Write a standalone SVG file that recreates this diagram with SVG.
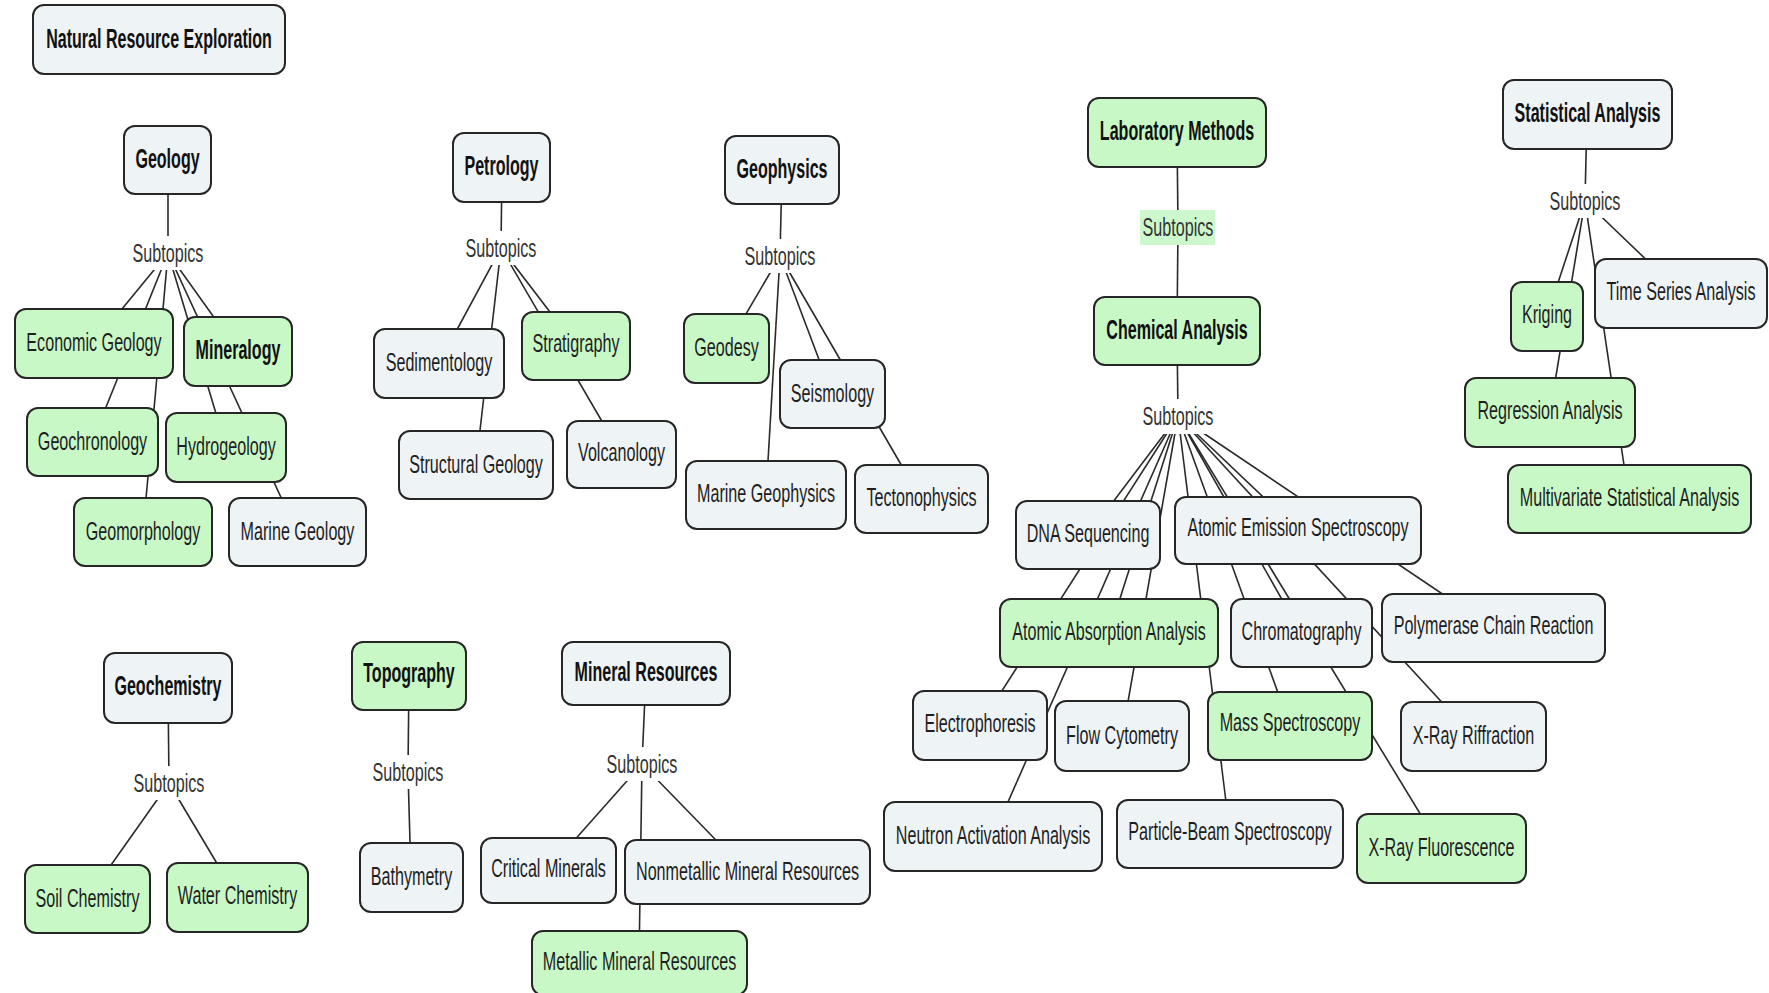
<svg xmlns="http://www.w3.org/2000/svg" width="1769" height="993" viewBox="0 0 1769 993">
  <style>
    .box { stroke: #262626; stroke-width: 2; }
    .gray { fill: #eef3f6; }
    .green { fill: #c8f8c6; }
    .t { font-family: "Liberation Sans", Arial, sans-serif; font-size: 26px; fill: #1e1e1e; text-anchor: middle; }
    .b { font-weight: bold; font-size: 27px; fill: #111; }
    .lbl { fill: #ffffff; }
    .lblg { fill: #cdf8cd; }
    .st { fill: #333; }
    .edges line { stroke: #2a2a2a; stroke-width: 1.6; }
  </style>

  <rect width="1769" height="993" fill="#ffffff"/>

  <!-- connectors: parent -> "Subtopics" -> child centres (boxes drawn on top) -->
  <g id="connectors" class="edges">
    <!-- Geology -->
    <line x1="168" y1="160" x2="168" y2="253"/>
    <line x1="168" y1="253" x2="94" y2="343"/>
    <line x1="168" y1="253" x2="238" y2="351"/>
    <line x1="168" y1="253" x2="92" y2="442"/>
    <line x1="168" y1="253" x2="226" y2="447"/>
    <line x1="168" y1="253" x2="143" y2="532"/>
    <line x1="168" y1="253" x2="297" y2="532"/>
    <!-- Petrology -->
    <line x1="502" y1="167" x2="501" y2="248"/>
    <line x1="501" y1="248" x2="439" y2="363"/>
    <line x1="501" y1="248" x2="576" y2="346"/>
    <line x1="501" y1="248" x2="476" y2="465"/>
    <line x1="501" y1="248" x2="621" y2="454"/>
    <!-- Geophysics -->
    <line x1="782" y1="170" x2="780" y2="256"/>
    <line x1="780" y1="256" x2="726" y2="348"/>
    <line x1="780" y1="256" x2="832" y2="394"/>
    <line x1="780" y1="256" x2="766" y2="495"/>
    <line x1="780" y1="256" x2="921" y2="499"/>
    <!-- Laboratory Methods -->
    <line x1="1177" y1="132" x2="1178" y2="227"/>
    <line x1="1178" y1="227" x2="1177" y2="331"/>
    <!-- Chemical Analysis -->
    <line x1="1177" y1="331" x2="1178" y2="416"/>
    <line x1="1178" y1="416" x2="1088" y2="535"/>
    <line x1="1178" y1="416" x2="1298" y2="530"/>
    <line x1="1178" y1="416" x2="1109" y2="633"/>
    <line x1="1178" y1="416" x2="1301" y2="633"/>
    <line x1="1178" y1="416" x2="1493" y2="628"/>
    <line x1="1178" y1="416" x2="980" y2="725"/>
    <line x1="1178" y1="416" x2="1122" y2="736"/>
    <line x1="1178" y1="416" x2="1290" y2="726"/>
    <line x1="1178" y1="416" x2="1473" y2="736"/>
    <line x1="1178" y1="416" x2="993" y2="836"/>
    <line x1="1178" y1="416" x2="1230" y2="834"/>
    <line x1="1178" y1="416" x2="1441" y2="848"/>
    <!-- Statistical Analysis -->
    <line x1="1587" y1="114" x2="1585" y2="201"/>
    <line x1="1585" y1="201" x2="1547" y2="316"/>
    <line x1="1585" y1="201" x2="1681" y2="293"/>
    <line x1="1585" y1="201" x2="1550" y2="412"/>
    <line x1="1585" y1="201" x2="1629" y2="499"/>
    <!-- Geochemistry -->
    <line x1="168" y1="688" x2="169" y2="783"/>
    <line x1="169" y1="783" x2="87" y2="899"/>
    <line x1="169" y1="783" x2="237" y2="897"/>
    <!-- Topography -->
    <line x1="409" y1="676" x2="408" y2="772"/>
    <line x1="408" y1="772" x2="411" y2="877"/>
    <!-- Mineral Resources -->
    <line x1="646" y1="673" x2="642" y2="764"/>
    <line x1="642" y1="764" x2="548" y2="870"/>
    <line x1="642" y1="764" x2="747" y2="872"/>
    <line x1="642" y1="764" x2="639" y2="961"/>
  </g>

  <!-- "Subtopics" labels -->
  <g id="lbl-geology"><rect class="lbl" x="130" y="236" width="76" height="34"/><text class="t st" transform="translate(168 253) scale(0.62 1)" dy="0.35em">Subtopics</text></g>
  <g id="lbl-petrology"><rect class="lbl" x="463" y="231" width="76" height="34"/><text class="t st" transform="translate(501 248) scale(0.62 1)" dy="0.35em">Subtopics</text></g>
  <g id="lbl-geophysics"><rect class="lbl" x="742" y="239" width="76" height="34"/><text class="t st" transform="translate(780 256) scale(0.62 1)" dy="0.35em">Subtopics</text></g>
  <g id="lbl-laboratory"><rect class="lblg" x="1140" y="210" width="75" height="35"/><text class="t st" transform="translate(1178 227) scale(0.62 1)" dy="0.35em">Subtopics</text></g>
  <g id="lbl-chemical"><rect class="lbl" x="1140" y="399" width="76" height="35"/><text class="t st" transform="translate(1178 416) scale(0.62 1)" dy="0.35em">Subtopics</text></g>
  <g id="lbl-statistical"><rect class="lbl" x="1547" y="184" width="76" height="34"/><text class="t st" transform="translate(1585 201) scale(0.62 1)" dy="0.35em">Subtopics</text></g>
  <g id="lbl-geochemistry"><rect class="lbl" x="131" y="766" width="76" height="34"/><text class="t st" transform="translate(169 783) scale(0.62 1)" dy="0.35em">Subtopics</text></g>
  <g id="lbl-topography"><rect class="lbl" x="370" y="755" width="76" height="34"/><text class="t st" transform="translate(408 772) scale(0.62 1)" dy="0.35em">Subtopics</text></g>
  <g id="lbl-mineral"><rect class="lbl" x="604" y="747" width="76" height="34"/><text class="t st" transform="translate(642 764) scale(0.62 1)" dy="0.35em">Subtopics</text></g>

  <!-- nodes -->
  <g id="n-natural-resource-exploration"><rect class="box gray" x="33" y="5" width="252" height="69" rx="11"/><text class="t b" transform="translate(159 39) scale(0.595 1)" dy="0.35em">Natural Resource Exploration</text></g>

  <g id="n-geology"><rect class="box gray" x="124" y="126" width="87" height="68" rx="11"/><text class="t b" transform="translate(167.5 159) scale(0.595 1)" dy="0.35em">Geology</text></g>
  <g id="n-economic-geology"><rect class="box green" x="15" y="309" width="158" height="69" rx="11"/><text class="t" transform="translate(94 342) scale(0.62 1)" dy="0.35em">Economic Geology</text></g>
  <g id="n-mineralogy"><rect class="box green" x="184" y="317" width="108" height="69" rx="11"/><text class="t b" transform="translate(238 350) scale(0.595 1)" dy="0.35em">Mineralogy</text></g>
  <g id="n-geochronology"><rect class="box green" x="27" y="408" width="131" height="68" rx="11"/><text class="t" transform="translate(92.5 441) scale(0.62 1)" dy="0.35em">Geochronology</text></g>
  <g id="n-hydrogeology"><rect class="box green" x="166" y="413" width="120" height="69" rx="11"/><text class="t" transform="translate(226 446) scale(0.62 1)" dy="0.35em">Hydrogeology</text></g>
  <g id="n-geomorphology"><rect class="box green" x="74" y="498" width="138" height="68" rx="11"/><text class="t" transform="translate(143 531) scale(0.62 1)" dy="0.35em">Geomorphology</text></g>
  <g id="n-marine-geology"><rect class="box gray" x="229" y="498" width="137" height="68" rx="11"/><text class="t" transform="translate(297.5 531) scale(0.62 1)" dy="0.35em">Marine Geology</text></g>

  <g id="n-petrology"><rect class="box gray" x="453" y="133" width="97" height="69" rx="11"/><text class="t b" transform="translate(501.5 166) scale(0.595 1)" dy="0.35em">Petrology</text></g>
  <g id="n-sedimentology"><rect class="box gray" x="374" y="329" width="130" height="69" rx="11"/><text class="t" transform="translate(439 362) scale(0.62 1)" dy="0.35em">Sedimentology</text></g>
  <g id="n-stratigraphy"><rect class="box green" x="522" y="312" width="108" height="68" rx="11"/><text class="t" transform="translate(576 343) scale(0.62 1)" dy="0.35em">Stratigraphy</text></g>
  <g id="n-structural-geology"><rect class="box gray" x="399" y="431" width="154" height="68" rx="11"/><text class="t" transform="translate(476 464) scale(0.62 1)" dy="0.35em">Structural Geology</text></g>
  <g id="n-volcanology"><rect class="box gray" x="567" y="421" width="109" height="67" rx="11"/><text class="t" transform="translate(621.5 452) scale(0.62 1)" dy="0.35em">Volcanology</text></g>

  <g id="n-geophysics"><rect class="box gray" x="725" y="136" width="114" height="68" rx="11"/><text class="t b" transform="translate(782 169) scale(0.595 1)" dy="0.35em">Geophysics</text></g>
  <g id="n-geodesy"><rect class="box green" x="684" y="314" width="85" height="69" rx="11"/><text class="t" transform="translate(726.5 347) scale(0.62 1)" dy="0.35em">Geodesy</text></g>
  <g id="n-seismology"><rect class="box gray" x="780" y="360" width="105" height="68" rx="11"/><text class="t" transform="translate(832.5 393) scale(0.62 1)" dy="0.35em">Seismology</text></g>
  <g id="n-marine-geophysics"><rect class="box gray" x="686" y="461" width="160" height="68" rx="11"/><text class="t" transform="translate(766 493) scale(0.62 1)" dy="0.35em">Marine Geophysics</text></g>
  <g id="n-tectonophysics"><rect class="box gray" x="855" y="465" width="133" height="68" rx="11"/><text class="t" transform="translate(921.5 497) scale(0.62 1)" dy="0.35em">Tectonophysics</text></g>

  <g id="n-laboratory-methods"><rect class="box green" x="1088" y="98" width="178" height="69" rx="11"/><text class="t b" transform="translate(1177 131) scale(0.595 1)" dy="0.35em">Laboratory Methods</text></g>
  <g id="n-chemical-analysis"><rect class="box green" x="1094" y="297" width="166" height="68" rx="11"/><text class="t b" transform="translate(1177 330) scale(0.595 1)" dy="0.35em">Chemical Analysis</text></g>

  <g id="n-statistical-analysis"><rect class="box gray" x="1503" y="80" width="169" height="69" rx="11"/><text class="t b" transform="translate(1587.5 113) scale(0.595 1)" dy="0.35em">Statistical Analysis</text></g>
  <g id="n-kriging"><rect class="box green" x="1511" y="282" width="72" height="69" rx="11"/><text class="t" transform="translate(1547 314) scale(0.62 1)" dy="0.35em">Kriging</text></g>
  <g id="n-time-series-analysis"><rect class="box gray" x="1595" y="259" width="172" height="69" rx="11"/><text class="t" transform="translate(1681 291) scale(0.62 1)" dy="0.35em">Time Series Analysis</text></g>
  <g id="n-regression-analysis"><rect class="box green" x="1465" y="378" width="170" height="69" rx="11"/><text class="t" transform="translate(1550 410) scale(0.62 1)" dy="0.35em">Regression Analysis</text></g>
  <g id="n-multivariate-statistical-analysis"><rect class="box green" x="1508" y="465" width="243" height="68" rx="11"/><text class="t" transform="translate(1629.5 497) scale(0.62 1)" dy="0.35em">Multivariate Statistical Analysis</text></g>

  <g id="n-dna-sequencing"><rect class="box gray" x="1016" y="501" width="144" height="68" rx="11"/><text class="t" transform="translate(1088 533) scale(0.62 1)" dy="0.35em">DNA Sequencing</text></g>
  <g id="n-atomic-emission-spectroscopy"><rect class="box gray" x="1175" y="497" width="246" height="67" rx="11"/><text class="t" transform="translate(1298 527) scale(0.62 1)" dy="0.35em">Atomic Emission Spectroscopy</text></g>
  <g id="n-atomic-absorption-analysis"><rect class="box green" x="1000" y="599" width="218" height="68" rx="11"/><text class="t" transform="translate(1109 631) scale(0.62 1)" dy="0.35em">Atomic Absorption Analysis</text></g>
  <g id="n-chromatography"><rect class="box gray" x="1231" y="599" width="141" height="68" rx="11"/><text class="t" transform="translate(1301.5 631) scale(0.62 1)" dy="0.35em">Chromatography</text></g>
  <g id="n-polymerase-chain-reaction"><rect class="box gray" x="1382" y="594" width="223" height="68" rx="11"/><text class="t" transform="translate(1493.5 625) scale(0.62 1)" dy="0.35em">Polymerase Chain Reaction</text></g>
  <g id="n-electrophoresis"><rect class="box gray" x="913" y="691" width="134" height="69" rx="11"/><text class="t" transform="translate(980 723) scale(0.62 1)" dy="0.35em">Electrophoresis</text></g>
  <g id="n-flow-cytometry"><rect class="box gray" x="1055" y="701" width="134" height="70" rx="11"/><text class="t" transform="translate(1122 735) scale(0.62 1)" dy="0.35em">Flow Cytometry</text></g>
  <g id="n-mass-spectroscopy"><rect class="box green" x="1208" y="692" width="164" height="68" rx="11"/><text class="t" transform="translate(1290 722) scale(0.62 1)" dy="0.35em">Mass Spectroscopy</text></g>
  <g id="n-x-ray-riffraction"><rect class="box gray" x="1401" y="702" width="145" height="69" rx="11"/><text class="t" transform="translate(1473.5 735) scale(0.62 1)" dy="0.35em">X-Ray Riffraction</text></g>
  <g id="n-neutron-activation-analysis"><rect class="box gray" x="884" y="802" width="218" height="69" rx="11"/><text class="t" transform="translate(993 835) scale(0.62 1)" dy="0.35em">Neutron Activation Analysis</text></g>
  <g id="n-particle-beam-spectroscopy"><rect class="box gray" x="1117" y="800" width="226" height="68" rx="11"/><text class="t" transform="translate(1230 831) scale(0.62 1)" dy="0.35em">Particle-Beam Spectroscopy</text></g>
  <g id="n-x-ray-fluorescence"><rect class="box green" x="1357" y="814" width="169" height="69" rx="11"/><text class="t" transform="translate(1441.5 847) scale(0.62 1)" dy="0.35em">X-Ray Fluorescence</text></g>

  <g id="n-geochemistry"><rect class="box gray" x="104" y="653" width="128" height="70" rx="11"/><text class="t b" transform="translate(168 686) scale(0.595 1)" dy="0.35em">Geochemistry</text></g>
  <g id="n-soil-chemistry"><rect class="box green" x="25" y="865" width="125" height="68" rx="11"/><text class="t" transform="translate(87.5 898) scale(0.62 1)" dy="0.35em">Soil Chemistry</text></g>
  <g id="n-water-chemistry"><rect class="box green" x="167" y="863" width="141" height="69" rx="11"/><text class="t" transform="translate(237.5 895) scale(0.62 1)" dy="0.35em">Water Chemistry</text></g>

  <g id="n-topography"><rect class="box green" x="352" y="642" width="114" height="68" rx="11"/><text class="t b" transform="translate(409 673) scale(0.595 1)" dy="0.35em">Topography</text></g>
  <g id="n-bathymetry"><rect class="box gray" x="360" y="843" width="103" height="69" rx="11"/><text class="t" transform="translate(411.5 876) scale(0.62 1)" dy="0.35em">Bathymetry</text></g>

  <g id="n-mineral-resources"><rect class="box gray" x="562" y="642" width="168" height="63" rx="11"/><text class="t b" transform="translate(646 672) scale(0.595 1)" dy="0.35em">Mineral Resources</text></g>
  <g id="n-critical-minerals"><rect class="box gray" x="481" y="838" width="135" height="65" rx="11"/><text class="t" transform="translate(548.5 868) scale(0.62 1)" dy="0.35em">Critical Minerals</text></g>
  <g id="n-nonmetallic-mineral-resources"><rect class="box gray" x="625" y="840" width="245" height="64" rx="11"/><text class="t" transform="translate(747.5 871) scale(0.62 1)" dy="0.35em">Nonmetallic Mineral Resources</text></g>
  <g id="n-metallic-mineral-resources"><rect class="box green" x="532" y="931" width="215" height="64" rx="11"/><text class="t" transform="translate(639.5 961) scale(0.62 1)" dy="0.35em">Metallic Mineral Resources</text></g>
</svg>
